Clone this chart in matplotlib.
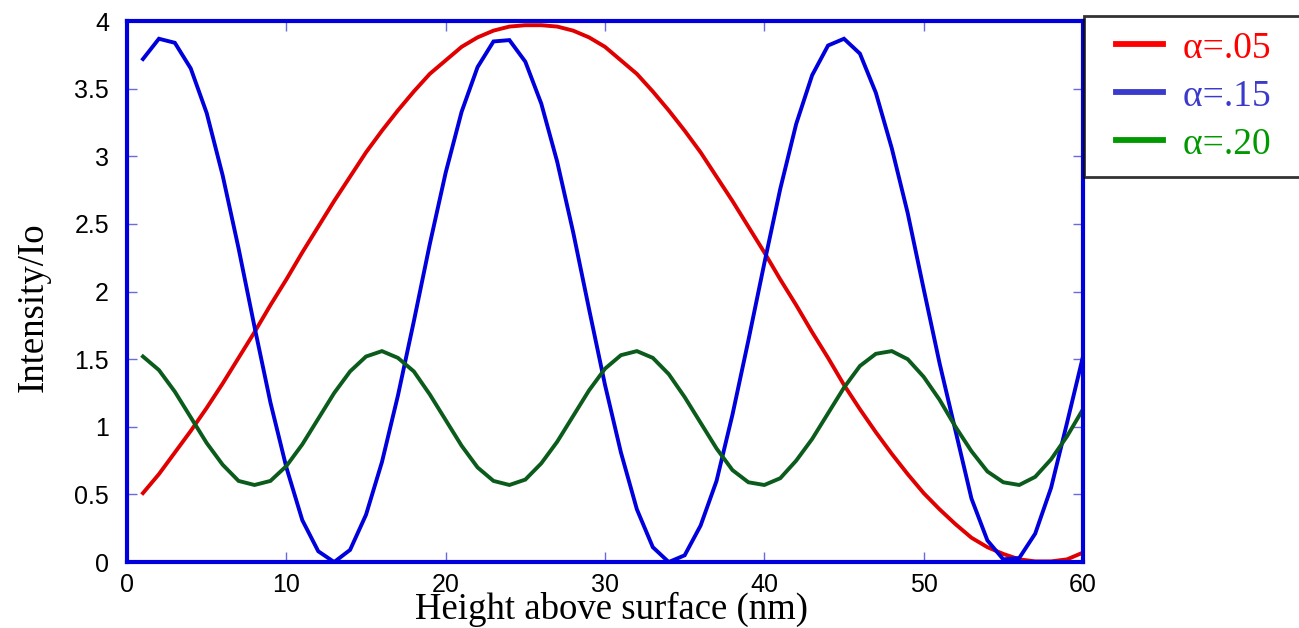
import numpy as np
import matplotlib.pyplot as plt
from matplotlib.lines import Line2D
from matplotlib.legend_handler import HandlerLine2D

# heights (nm), sampled every 1 nm
height = list(range(1, 61))

# alpha = .05
i_05 = [0.51, 0.65, 0.81, 0.97, 1.14, 1.32, 1.51, 1.70, 1.90, 2.09,
        2.29, 2.48, 2.67, 2.85, 3.03, 3.19, 3.34, 3.48, 3.61, 3.71,
        3.81, 3.88, 3.93, 3.96, 3.97, 3.97, 3.96, 3.93, 3.88, 3.81,
        3.71, 3.61, 3.48, 3.34, 3.19, 3.03, 2.85, 2.67, 2.48, 2.29,
        2.09, 1.90, 1.70, 1.51, 1.31, 1.13, 0.96, 0.80, 0.65, 0.51,
        0.39, 0.28, 0.18, 0.11, 0.06, 0.02, 0.005, 0.005, 0.02, 0.07]

# alpha = .15
i_15 = [3.72, 3.87, 3.84, 3.65, 3.32, 2.86, 2.32, 1.74, 1.18, 0.70,
        0.31, 0.08, 0.00, 0.09, 0.35, 0.74, 1.23, 1.78, 2.35, 2.88,
        3.33, 3.66, 3.85, 3.86, 3.70, 3.39, 2.96, 2.44, 1.87, 1.31,
        0.81, 0.39, 0.11, 0.00, 0.05, 0.27, 0.60, 1.09, 1.64, 2.21,
        2.76, 3.24, 3.60, 3.82, 3.87, 3.76, 3.47, 3.06, 2.58, 2.02,
        1.47, 0.97, 0.47, 0.16, 0.02, 0.03, 0.21, 0.55, 1.03, 1.52]

# alpha = .20
i_20 = [1.52, 1.42, 1.26, 1.07, 0.88, 0.72, 0.60, 0.57, 0.60, 0.71,
        0.87, 1.06, 1.25, 1.41, 1.52, 1.56, 1.51, 1.41, 1.24, 1.05,
        0.86, 0.70, 0.60, 0.57, 0.61, 0.73, 0.89, 1.08, 1.27, 1.43,
        1.53, 1.56, 1.51, 1.39, 1.22, 1.03, 0.84, 0.68, 0.59, 0.57,
        0.62, 0.75, 0.91, 1.10, 1.29, 1.45, 1.54, 1.56, 1.50, 1.37,
        1.20, 1.00, 0.82, 0.67, 0.59, 0.57, 0.63, 0.76, 0.93, 1.13]

labels = ["\u03b1=.05", "\u03b1=.15", "\u03b1=.20"]
line_cols = ["#e00000", "#0000dd", "#0b5c1c"]
leg_cols = ["#ff0000", "#3a3acc", "#009900"]
edge = "#0000dd"

fig = plt.figure(figsize=(12.99, 6.28), dpi=100)
ax = fig.add_axes([0.0978, 0.105, 0.7359, 0.8613])

for ys, c, lb in zip([i_05, i_15, i_20], line_cols, labels):
    ax.plot(height, ys, color=c, lw=2.8, label=lb, solid_joinstyle="miter")

ax.set_xlim(0, 60)
ax.set_ylim(0, 4)
ax.set_xticks([0, 10, 20, 30, 40, 50, 60])
ax.set_yticks([0, 0.5, 1, 1.5, 2, 2.5, 3, 3.5, 4])
ax.set_yticklabels(["0", "0.5", "1", "1.5", "2", "2.5", "3", "3.5", "4"])

for s in ax.spines.values():
    s.set_color(edge)
    s.set_linewidth(3)

ax.tick_params(direction="in", length=7, width=1, color="#6a6ae0",
               top=True, right=True, labelsize=18,
               labelfontfamily="Liberation Sans")
ax.tick_params(axis="y", pad=13)
ax.tick_params(axis="x", pad=8)

ax.set_xlabel("Height above surface (nm)", family="Liberation Serif",
              fontsize=26.5)
ax.xaxis.set_label_coords(0.507, -0.054)
ax.set_ylabel("Intensity/Io", family="Liberation Serif", fontsize=26.5)
ax.yaxis.set_label_coords(-0.080, 0.472)

# legend handles use slightly different colours than the curves
handles = [Line2D([], [], color=c, lw=4.2) for c in leg_cols]
leg = fig.legend(handles, [lb + "   " for lb in labels], loc="upper left",
                 bbox_to_anchor=(1084 / 1299, 1 - 16 / 628),
                 prop={"family": "Liberation Serif", "size": 27},
                 frameon=True, fancybox=False, edgecolor="black",
                 handlelength=1.71, handletextpad=0.53, labelspacing=0.36,
                 borderpad=0.4, borderaxespad=0,
                 handler_map={Line2D: HandlerLine2D(xpad=0.45)})
leg.get_frame().set_linewidth(2)
for t, c in zip(leg.get_texts(), leg_cols):
    t.set_color(c)

fig.savefig("out.png", dpi=100)
